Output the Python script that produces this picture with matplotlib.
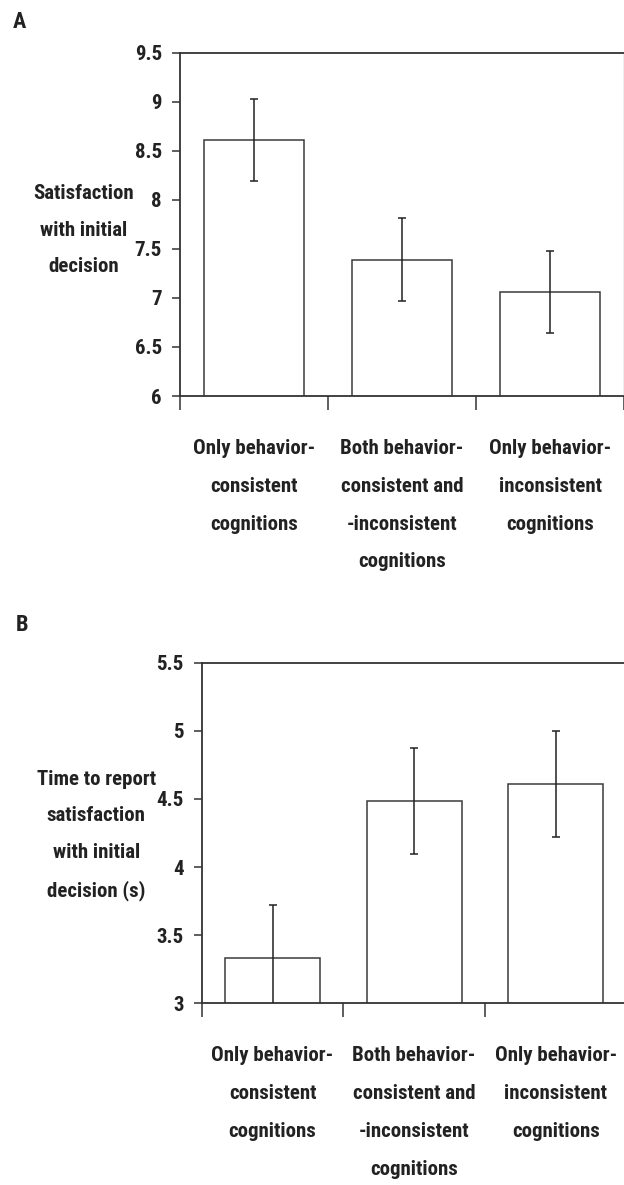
import matplotlib
matplotlib.use('Agg')
import matplotlib.pyplot as plt
from matplotlib.ticker import FixedLocator

plt.rcParams['font.family'] = ['Roboto Condensed', 'DejaVu Sans']
plt.rcParams['font.weight'] = 'bold'
plt.rcParams['axes.labelweight'] = 'bold'

categories = ['Only behavior-\nconsistent\ncognitions',
              'Both behavior-\nconsistent and\n-inconsistent\ncognitions',
              'Only behavior-\ninconsistent\ncognitions']
sat_mean = [8.61, 7.39, 7.06]
sat_err = [0.42, 0.42, 0.42]
time_mean = [3.335, 4.483, 4.612]
time_err = [0.39, 0.39, 0.39]
sat_ticks = [6, 6.5, 7, 7.5, 8, 8.5, 9, 9.5]
sat_ticklabels = ['6', '6.5', '7', '7.5', '8', '8.5', '9', '9.5']
time_ticks = [3, 3.5, 4, 4.5, 5, 5.5]
time_ticklabels = ['3', '3.5', '4', '4.5', '5', '5.5']

FS = 15


def draw_panel(ax, means, errs, ylim, yticks, yticklabels, ylabel, label_xy, right_color):
    x = range(len(means))
    ax.bar(x, means, width=0.67, color='white', edgecolor='#3a3a3a', linewidth=1.1, zorder=2)
    ax.errorbar(x, means, yerr=errs, fmt='none', ecolor='#222222', elinewidth=1.1,
                capsize=3, capthick=1.1, zorder=3)
    ax.set_xlim(-0.5, len(means) - 0.5)
    ax.set_ylim(*ylim)
    ax.set_yticks(yticks)
    ax.set_yticklabels(yticklabels, fontsize=FS)
    ax.set_xticks(list(x))
    ax.set_xticklabels(categories, fontsize=FS, linespacing=2.25, color='#222222')
    ax.tick_params(axis='x', which='major', length=0, pad=31)
    ax.xaxis.set_minor_locator(FixedLocator([-0.5, 0.5, 1.5, 2.5]))
    ax.tick_params(axis='x', which='minor', length=10, width=1.1, color='#333333', direction='out')
    ax.tick_params(axis='y', length=6, width=1.1, color='#333333', pad=7, labelcolor='#222222')
    for side in ['left', 'bottom', 'top']:
        ax.spines[side].set_color('#333333')
        ax.spines[side].set_linewidth(1.3)
    ax.spines['right'].set_color(right_color)
    ax.spines['right'].set_linewidth(1.0)
    ax.set_ylabel(ylabel, rotation=0, fontsize=FS, ha='center', va='center',
                  linespacing=2.15, color='#222222')
    ax.yaxis.set_label_coords(*label_xy)


fig = plt.figure(figsize=(6.24, 11.85), dpi=100)
ax_a = fig.add_axes([0.2885, 0.6658, 0.7115, 0.2897])
ax_b = fig.add_axes([0.3232, 0.1533, 0.6811, 0.2875])

draw_panel(ax_a, sat_mean, sat_err, (6, 9.5), sat_ticks, sat_ticklabels,
           'Satisfaction\nwith initial\ndecision', (-0.217, 0.4835), '#aaaaaa')
draw_panel(ax_b, time_mean, time_err, (3, 5.5), time_ticks, time_ticklabels,
           'Time to report\nsatisfaction\nwith initial\ndecision (s)', (-0.248, 0.4927), '#aaaaaa')

fig.text(19 / 624, 1 - 22 / 1185, 'A', fontsize=FS + 1, ha='center', va='center', color='#222222')
fig.text(22 / 624, 1 - 625 / 1185, 'B', fontsize=FS + 1, ha='center', va='center', color='#222222')

fig.savefig('out.png', dpi=100)
